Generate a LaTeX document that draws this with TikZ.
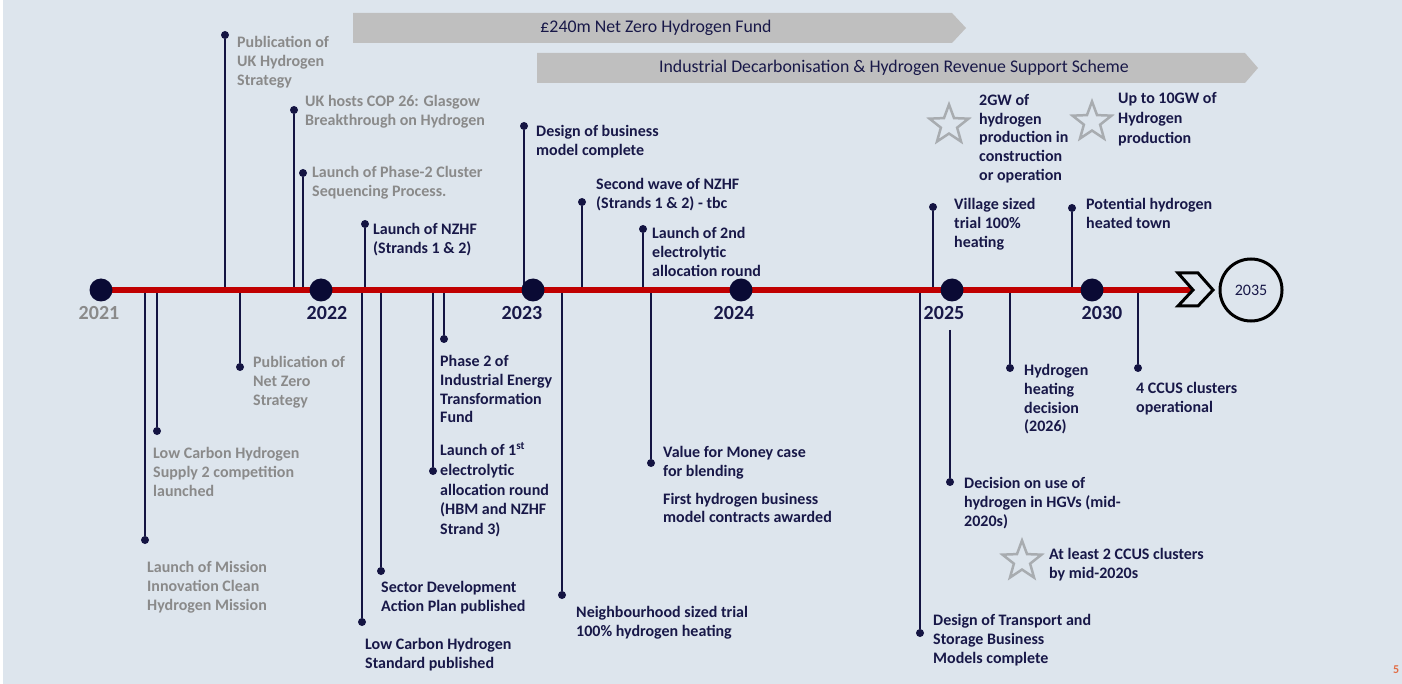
\documentclass[tikz,border=0pt]{standalone}
\usepackage{fontspec}
\setmainfont{Carlito}
\usetikzlibrary{shapes.geometric}
\definecolor{bgblue}{RGB}{221,229,237}
\definecolor{navy}{RGB}{24,24,72}
\definecolor{stemc}{RGB}{20,20,66}
\definecolor{yearc}{RGB}{10,10,52}
\definecolor{greytext}{RGB}{138,138,138}
\definecolor{barc}{RGB}{191,191,191}
\definecolor{starc}{RGB}{168,172,176}
\definecolor{linered}{RGB}{192,0,0}
\definecolor{pagec}{RGB}{226,110,70}
\tikzset{
  stem/.style={line width=2pt,draw=stemc},
  knob/.style={circle,fill=stemc,inner sep=0pt,minimum size=8pt},
  yeardot/.style={circle,fill=yearc,inner sep=0pt,minimum size=23pt},
  yeartext/.style={font=\fontsize{20}{23}\selectfont\bfseries,text=navy,inner sep=0pt},
  timeline/.style={line width=6pt,draw=linered},
  evtext/.style={font=\fontsize{16}{18.8}\selectfont\bfseries,text=navy,
    align=left,anchor=north west,inner sep=0pt,yshift=6pt,
    execute at begin node=\strut},
  evgrey/.style={evtext,text=greytext},
  hstar/.style={star,star points=5,star point ratio=2.4,draw=starc,
    line width=2.5pt,minimum size=41pt,inner sep=0pt},
  barfill/.style={fill=barc},
  bartext/.style={font=\fontsize{17.8}{20}\selectfont,text=navy,inner sep=0pt}
}
\begin{document}
\begin{tikzpicture}[x=1pt,y=-1pt]
  \useasboundingbox (0,0) rectangle (1402,684);
  \fill[white] (0,0) rectangle (1402,684);
  \fill[bgblue] (3,0) rectangle (1402,684);
  % funding bars
  \fill[barfill] (353,13) -- (952,13) -- (966,28) -- (952,43) -- (353,43) -- cycle;
  \node (fund) [bartext] at (656,28) {£240m Net Zero Hydrogen Fund};
  \fill[barfill] (537,53) -- (1245,53) -- (1258,68) -- (1245,83) -- (537,83) -- cycle;
  \node (scheme) [bartext] at (894,68)
    {Industrial Decarbonisation \& Hydrogen Revenue Support Scheme};
  % stems: number/x/dot y/foot y
  \foreach \n/\x/\y/\s in {1/225/35/290, 2/294/110/290, 3/303/173/290,
      4/365/224/290, 5/524/126/290, 6/582/202/290, 7/643/229/290,
      8/933/207/290, 9/1072/208/290, 10/145/540/290, 11/157/431/290,
      12/240/367/290, 13/362/622/290, 14/381/571/290, 15/433/471/290,
      16/444/339/290, 17/562/595/290, 18/651/463/290, 19/920/633/290,
      20/950/482/330, 21/1010/368/290, 22/1138/368/290}{
    \coordinate (t\n) at (\x,\s);
    \node (d\n) [knob] at (\x,\y) {};
    \draw[stem] (t\n) -- (d\n);
  }
  % timeline
  \coordinate (start) at (101,290);
  \coordinate (notch) at (1193,290);
  \draw[timeline] (start) -- (notch);
  \foreach \yr/\x in {2021/101,2022/321,2023/533,2024/741,2025/952,2030/1092}
    \node (y\yr) [yeardot] at (\x,290) {};
  \node (n2021) [yeartext,text=greytext] at (99,313) {2021};
  \node (n2022) [yeartext] at (327,313) {2022};
  \node (n2023) [yeartext] at (522,313) {2023};
  \node (n2024) [yeartext] at (734,313) {2024};
  \node (n2025) [yeartext] at (944,313) {2025};
  \node (n2030) [yeartext] at (1102,313) {2030};
  \filldraw[fill=bgblue,draw=black,line width=3pt,line join=miter]
    (1178,273) -- (1198,273) -- (1213,290) -- (1198,306) -- (1178,306)
    -- (1193,290) -- cycle;
  \node (y2035) [circle,draw=black,line width=3pt,minimum size=62pt,
    font=\fontsize{16}{19}\selectfont,text=navy] at (1251,290) {2035};
  % labels above the line
  \node (l1) [evgrey] at (237,42) {Publication of\\UK Hydrogen\\Strategy};
  \node (l2) [evgrey] at (305,101) {UK hosts COP 26: Glasgow\\Breakthrough on Hydrogen};
  \node (l3) [evgrey] at (312,172) {Launch of Phase-2 Cluster\\Sequencing Process.};
  \node (l4) [evtext] at (373,229) {Launch of NZHF\\(Strands 1 \& 2)};
  \node (l5) [evtext] at (536,131) {Design of business\\model complete};
  \node (l6) [evtext] at (596,184) {Second wave of NZHF\\(Strands 1 \& 2) - tbc};
  \node (l7) [evtext] at (652,233) {Launch of 2nd\\electrolytic\\allocation round};
  \node (l8) [evtext] at (954,204) {Village sized\\trial 100\%\\heating};
  \node (l9) [evtext] at (1086,204) {Potential hydrogen\\heated town};
  % labels below the line
  \node (l10) [evgrey] at (147,567) {Launch of Mission\\Innovation Clean\\Hydrogen Mission};
  \node (l11) [evgrey] at (153,453) {Low Carbon Hydrogen\\Supply 2 competition\\launched};
  \node (l12) [evgrey] at (253,362) {Publication of\\Net Zero\\Strategy};
  \node (l13) [evtext] at (365,644) {Low Carbon Hydrogen\\Standard published};
  \node (l14) [evtext] at (381,587) {Sector Development\\Action Plan published};
  \node (l15) [evtext] at (440,448)
    {Launch of 1\textsuperscript{st}\\[1pt]electrolytic\\[1pt]allocation round\\[1pt](HBM and NZHF\\[1pt]Strand 3)};
  \node (l16) [evtext] at (440,361) {Phase 2 of\\Industrial Energy\\Transformation\\Fund};
  \node (l17) [evtext] at (576,612) {Neighbourhood sized trial\\100\% hydrogen heating};
  \node (l18) [evtext] at (663,452)
    {Value for Money case\\for blending\\[9pt]First hydrogen business\\model contracts awarded};
  \node (l19) [evtext] at (933,620) {Design of Transport and\\Storage Business\\Models complete};
  \node (l20) [evtext] at (964,483) {Decision on use of\\hydrogen in HGVs (mid-\\2020s)};
  \node (l21) [evtext] at (1024,370) {Hydrogen\\heating\\decision\\(2026)};
  \node (l22) [evtext] at (1136,388) {4 CCUS clusters\\operational};
  % targets
  \node (s1) [hstar] at (949,125) {};
  \node (m1) [evtext] at (979,100) {2GW of\\hydrogen\\production in\\construction\\or operation};
  \node (s2) [hstar] at (1092,122) {};
  \node (m2) [evtext] at (1118,98) {Up to 10GW of\\[1.5pt]Hydrogen\\[1pt]production};
  \node (s3) [hstar] at (1022,561) {};
  \node (m3) [evtext] at (1049,554) {At least 2 CCUS clusters\\by mid-2020s};
  \node (pg) [font=\fontsize{12}{14}\selectfont\bfseries,text=pagec,anchor=west,
    inner sep=0pt] at (1393,670) {5};
\end{tikzpicture}
\end{document}
